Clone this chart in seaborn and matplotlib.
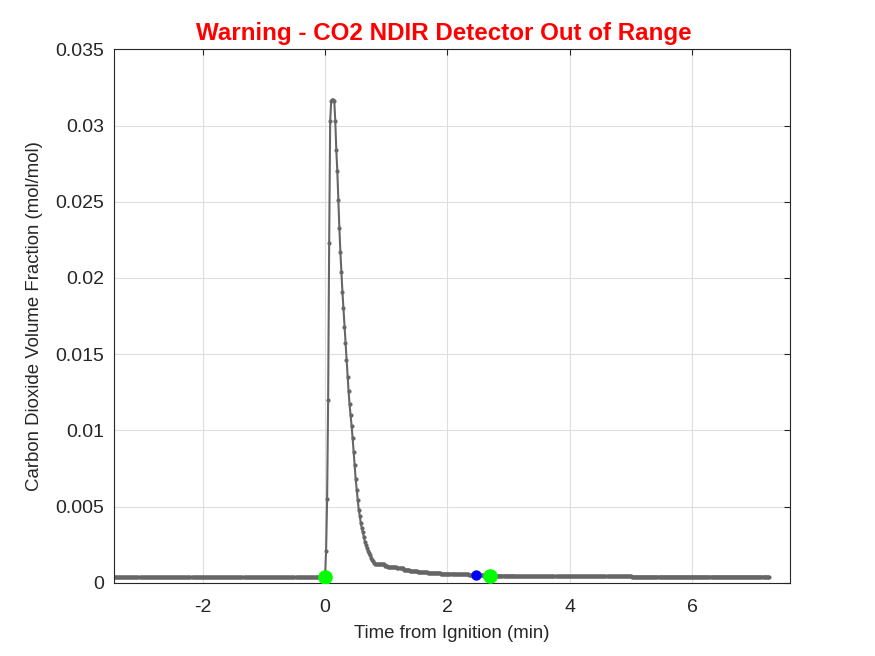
import numpy as np
import pandas as pd
import seaborn as sns
import matplotlib
matplotlib.use("Agg")
import matplotlib.pyplot as plt

# sampling: 1 Hz, time in minutes relative to ignition
samples_per_min = 60
pre_count = 207
pre_level = 0.00037

# ignition, peak and fast decay (one value per second, from t = 0)
burst_values = [
    0.00040, 0.0021, 0.0055, 0.0120, 0.0223, 0.0303, 0.0316, 0.0317, 0.0317, 0.0316,
    0.0303, 0.0284, 0.0270, 0.0251, 0.0233, 0.0217, 0.0204, 0.0191, 0.0180, 0.0168,
    0.0157, 0.0146, 0.0135, 0.0126, 0.0117, 0.0110, 0.0103, 0.0095, 0.0086, 0.0077,
    0.0068, 0.0061, 0.00545, 0.0048, 0.0044, 0.0039, 0.0036, 0.0033, 0.0030, 0.0027,
    0.0025, 0.0023, 0.0021, 0.00195, 0.0018, 0.00165, 0.0015, 0.0014, 0.0013, 0.00125,
]

# slow tail, read as (level, number of seconds)
tail_levels = [0.00120, 0.00122, 0.00112, 0.00104, 0.00098, 0.00086, 0.00076, 0.00070,
               0.00065, 0.00060, 0.00056, 0.00052, 0.00047, 0.00044, 0.00042, 0.00040]
tail_counts = [5, 4, 3, 9, 6, 6, 8, 10, 13, 14, 13, 15, 30, 55, 60, 135]

# event markers
green_t = [0.0, 2.70]
green_v = [0.00040, 0.00046]
blue_t = [2.47]
blue_v = [0.00053]

values = np.concatenate([
    np.full(pre_count, pre_level),
    burst_values,
    np.repeat(tail_levels, tail_counts),
])
time = (np.arange(len(values)) - pre_count) / samples_per_min
df = pd.DataFrame({"t": time, "co2": values})

sns.set_style("white")
plt.rcParams["font.family"] = ["Liberation Sans", "DejaVu Sans"]
plt.rcParams["axes.unicode_minus"] = False

fig = plt.figure(figsize=(8.75, 6.56), dpi=100)
ax = fig.add_axes([0.1303, 0.1117, 0.7726, 0.8131])

sns.lineplot(data=df, x="t", y="co2", ax=ax, color="#666666", linewidth=1.5,
             marker="o", markersize=3, markeredgewidth=0, estimator=None, sort=False)
ax.plot(blue_t, blue_v, "o", color="#0000ff", markersize=7.5, markeredgewidth=0, zorder=5)
ax.plot(green_t, green_v, "o", color="#00ff00", markersize=10.5, markeredgewidth=0, zorder=6)

ax.set_xlim(time[0], 7.60)
ax.set_ylim(0, 0.035)
ax.set_xticks([-2, 0, 2, 4, 6])
ax.set_yticks(np.arange(0, 0.0351, 0.005))
ax.set_yticklabels(["0", "0.005", "0.01", "0.015", "0.02", "0.025", "0.03", "0.035"])

ax.grid(True, color="#dedede", linewidth=0.8)
ax.set_axisbelow(True)
for s in ax.spines.values():
    s.set_color("#262626")
    s.set_linewidth(0.8)
    s.set_visible(True)
ax.tick_params(direction="in", length=4.5, width=0.8, color="#262626",
               labelsize=14, labelcolor="#262626", top=True, right=True, pad=7)
ax.tick_params(axis="x", pad=12)

ax.set_xlabel("Time from Ignition (min)", fontsize=13.4, color="#262626", labelpad=6)
ax.set_ylabel("Carbon Dioxide Volume Fraction (mol/mol)", fontsize=13.4, color="#262626", labelpad=9)
ax.set_title("Warning - CO2 NDIR Detector Out of Range", color="#ff0000",
             fontsize=17.4, fontweight="bold", pad=7, x=0.4875)

fig.savefig("out.png", dpi=100)
